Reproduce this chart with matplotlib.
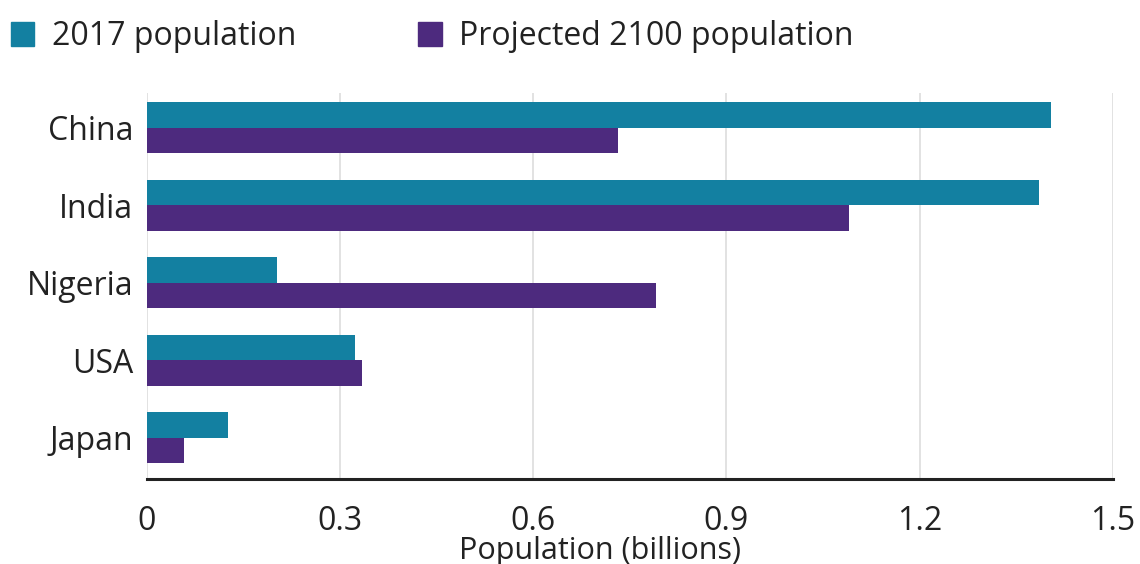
import matplotlib.pyplot as plt
from matplotlib.patches import Patch
import numpy as np

countries = ["China", "India", "Nigeria", "USA", "Japan"]
pop_2017 = [1.404, 1.385, 0.202, 0.323, 0.126]
pop_2100 = [0.731, 1.090, 0.791, 0.334, 0.057]
xticks = [0, 0.3, 0.6, 0.9, 1.2, 1.5]
xtick_labels = ["0", "0.3", "0.6", "0.9", "1.2", "1.5"]

teal = "#1380A1"
purple = "#4d2a7e"

plt.rcParams['font.family'] = ['Open Sans', 'DejaVu Sans']

fig = plt.figure(figsize=(11.4, 5.64), dpi=100)
ax = fig.add_axes([0.129, 0.151, 0.847, 0.684])

y = np.arange(len(countries))[::-1]
h = 0.33
ax.barh(y + h / 2, pop_2017, height=h, color=teal, zorder=3)
ax.barh(y - h / 2, pop_2100, height=h, color=purple, zorder=3)

ax.set_xlim(0, 1.5)
ax.set_ylim(-0.53, 4.45)
ax.set_yticks(y)
ax.set_yticklabels(countries, fontsize=23, color="#222222")
ax.set_xticks(xticks)
ax.set_xticklabels(xtick_labels, fontsize=23, color="#222222")
ax.tick_params(axis="both", length=0)
ax.tick_params(axis="x", pad=19)
ax.tick_params(axis="y", pad=10)

ax.grid(axis="x", color="#dddddd", linewidth=1.2, zorder=0)
for s in ["top", "right", "left"]:
    ax.spines[s].set_visible(False)
ax.spines["bottom"].set_linewidth(2.2)
ax.spines["bottom"].set_color("#222222")

ax.set_xlabel("Population (billions)", fontsize=22, color="#222222")
ax.xaxis.set_label_coords(0.469, -0.148)

handles = [Patch(color=teal, label="2017 population"),
           Patch(color=purple, label="Projected 2100 population")]
fig.legend(handles=handles, loc="upper left", bbox_to_anchor=(-0.016, 1.015), ncol=2,
           frameon=False, fontsize=23, handlelength=0.75, handleheight=0.75,
           handletextpad=0.55, columnspacing=3.8, labelcolor="#222222")

fig.savefig("out.png", dpi=100)
